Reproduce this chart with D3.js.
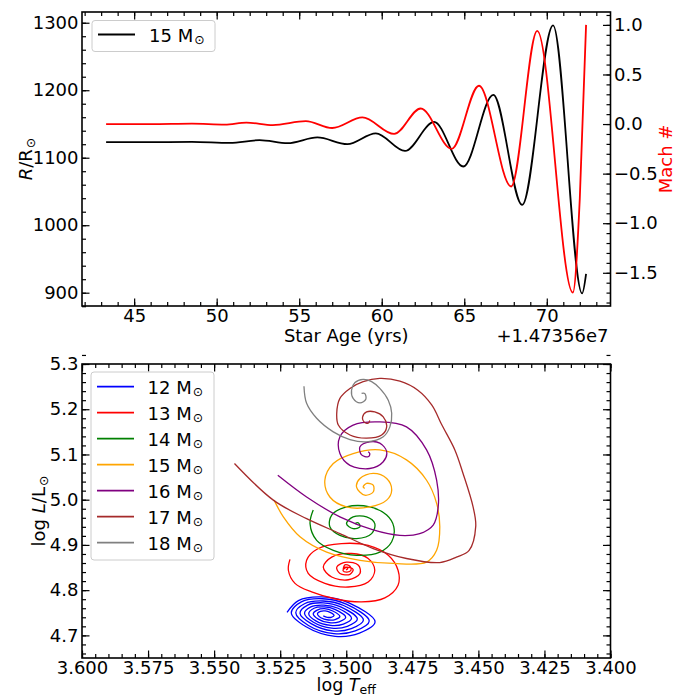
<!DOCTYPE html>
<html>
<head>
<meta charset="utf-8">
<script src="https://cdn.jsdelivr.net/npm/d3@7"></script>
<style>
    body { margin: 0; background: #fff; }
    svg text { font-family: "DejaVu Sans", sans-serif; }
</style>
</head>
<body>
<div id="chart"></div>
<script>
// ---- top panel: radius and Mach number vs age (offset +1.47356e7 yrs)
var radiusAge = [43.3, 46, 48.5, 50.8, 52.6, 54.3, 56.1, 57.92, 59.64, 61.41, 63.17, 64.94, 66.76, 68.51, 70.38, 72.14, 72.38];
var radiusVal = [1123, 1123, 1123.5, 1122, 1126, 1121.5, 1130, 1120, 1136, 1110, 1153, 1087, 1193, 1030, 1296, 899, 928];
var machAge = [43.3, 46, 48.5, 50.5, 51.8, 53.4, 55.4, 57.0, 58.83, 60.75, 62.36, 64.24, 65.89, 67.84, 69.42, 71.58, 72.0, 72.38];
var machVal = [0.0, 0.0, 0.005, -0.005, 0.015, -0.01, 0.03, -0.04, 0.067, -0.10, 0.157, -0.25, 0.386, -0.63, 0.94, -1.70, -0.75, 1.0];

var ageTicks = [45, 50, 55, 60, 65, 70];
var radiusTicks = [900, 1000, 1100, 1200, 1300];
var machTicks = [-1.5, -1.0, -0.5, 0.0, 0.5, 1.0];

// ---- bottom panel: HR tracks [log Teff, log L]
var track12 = [[3.5224,4.751],[3.5181,4.777],[3.5092,4.785],[3.4990,4.772],[3.4891,4.730],[3.4950,4.705],[3.5042,4.698],[3.5152,4.719],
    [3.5208,4.750],[3.5170,4.774],[3.5090,4.781],[3.5000,4.769],[3.4913,4.732],[3.4966,4.710],[3.5047,4.704],[3.5143,4.722],
    [3.5191,4.750],[3.5158,4.770],[3.5088,4.776],[3.5010,4.766],[3.4935,4.734],[3.4981,4.715],[3.5051,4.710],[3.5133,4.726],
    [3.5175,4.749],[3.5146,4.767],[3.5087,4.772],[3.5021,4.763],[3.4958,4.736],[3.4996,4.720],[3.5055,4.716],[3.5124,4.729],
    [3.5158,4.749],[3.5134,4.763],[3.5085,4.767],[3.5031,4.760],[3.4980,4.738],[3.5011,4.725],[3.5059,4.722],[3.5115,4.732],
    [3.5142,4.748],[3.5122,4.760],[3.5083,4.763],[3.5041,4.757],[3.5002,4.740],[3.5027,4.730],[3.5064,4.728],[3.5106,4.736],
    [3.5125,4.748],[3.5110,4.756],[3.5082,4.759],[3.5051,4.754],[3.5024,4.742],[3.5042,4.735],[3.5068,4.734],[3.5096,4.739],
    [3.5109,4.748],[3.5098,4.753],[3.5080,4.754],[3.5061,4.751],[3.5046,4.744],[3.5057,4.740],[3.5072,4.740],[3.5087,4.743]];
var track13 = [[3.5213,4.868],[3.5219,4.844],[3.5194,4.815],[3.5131,4.796],[3.5043,4.781],[3.4942,4.774],[3.4854,4.783],[3.4804,4.811],
    [3.4804,4.844],[3.4841,4.877],[3.4917,4.899],[3.5018,4.903],[3.5106,4.892],[3.5150,4.866],[3.5144,4.837],[3.5081,4.815],
    [3.4992,4.807],[3.4917,4.818],[3.4892,4.844],[3.4917,4.870],[3.4980,4.881],[3.5055,4.873],[3.5087,4.851],[3.5055,4.829],
    [3.4992,4.823],[3.4948,4.837],[3.4954,4.855],[3.4999,4.862],[3.5036,4.851],[3.5024,4.837],[3.4986,4.835],[3.4974,4.846],
    [3.4999,4.851],[3.5011,4.846],[3.5005,4.856],[3.4986,4.853],[3.4982,4.844],[3.4997,4.840],[3.5012,4.843],[3.5005,4.851],
    [3.4994,4.848],[3.5001,4.845]];
var track14 = [[3.5125,4.977],[3.5137,4.947],[3.5112,4.910],[3.5049,4.888],[3.4961,4.877],[3.4873,4.884],[3.4828,4.907],[3.4820,4.940],
    [3.4847,4.966],[3.4911,4.984],[3.4999,4.984],[3.5055,4.966],[3.5062,4.940],[3.5024,4.921],[3.4961,4.914],[3.4904,4.925],
    [3.4892,4.947],[3.4923,4.962],[3.4974,4.962],[3.4999,4.947],[3.4974,4.936],[3.4948,4.940],[3.4955,4.949],[3.4967,4.947]];
var track15 = [[3.5273,4.999],[3.5238,4.962],[3.5175,4.918],[3.5074,4.884],[3.4948,4.866],[3.4822,4.859],[3.4696,4.862],[3.4658,4.888],
    [3.4646,4.940],[3.4658,4.992],[3.4696,5.043],[3.4772,5.088],[3.4873,5.110],[3.4974,5.102],[3.5049,5.080],[3.5081,5.043],
    [3.5062,5.006],[3.4999,4.984],[3.4911,4.984],[3.4847,4.999],[3.4828,5.021],[3.4847,5.047],[3.4898,5.058],[3.4948,5.047],
    [3.4961,5.028],[3.4930,5.010],[3.4898,5.017],[3.4898,5.032],[3.4923,5.036],[3.4936,5.028],[3.4930,5.025]];
var track16 = [[3.5259,5.054],[3.5150,5.006],[3.5024,4.962],[3.4898,4.933],[3.4797,4.921],[3.4722,4.925],[3.4671,4.944],[3.4652,4.984],
    [3.4658,5.043],[3.4696,5.110],[3.4772,5.161],[3.4873,5.172],[3.4974,5.165],[3.5024,5.139],[3.5024,5.102],[3.4986,5.076],
    [3.4911,5.069],[3.4860,5.084],[3.4847,5.106],[3.4873,5.125],[3.4911,5.128],[3.4948,5.117],[3.4942,5.099],[3.4917,5.095],
    [3.4911,5.102],[3.4917,5.106]];
var track17 = [[3.5423,5.080],[3.5276,4.999],[3.5150,4.958],[3.5024,4.925],[3.4898,4.892],[3.4772,4.870],[3.4646,4.861],[3.4583,4.873],
    [3.4535,4.888],[3.4510,4.941],[3.4520,4.984],[3.4558,5.058],[3.4589,5.110],[3.4638,5.165],[3.4676,5.209],[3.4729,5.242],
    [3.4797,5.262],[3.4873,5.268],[3.4936,5.261],[3.4986,5.246],[3.5024,5.224],[3.5036,5.191],[3.5030,5.165],[3.4986,5.143],
    [3.4923,5.136],[3.4866,5.143],[3.4847,5.161],[3.4860,5.183],[3.4892,5.194],[3.4923,5.194],[3.4938,5.183],[3.4933,5.172],
    [3.4917,5.169],[3.4911,5.175]];
var track18 = [[3.5160,5.251],[3.5150,5.213],[3.5112,5.180],[3.5049,5.150],[3.4986,5.133],[3.4923,5.128],[3.4860,5.139],[3.4835,5.161],
    [3.4828,5.191],[3.4841,5.220],[3.4873,5.246],[3.4904,5.261],[3.4936,5.266],[3.4967,5.259],[3.4980,5.242],[3.4974,5.224],
    [3.4948,5.214],[3.4926,5.222],[3.4930,5.235],[3.4942,5.235]];

var tracks = [track12, track13, track14, track15, track16, track17, track18];
var trackNames = ['12', '13', '14', '15', '16', '17', '18'];
var trackColors = ['#0000ff', '#ff0000', '#008000', '#ffa500', '#800080', '#a52a2a', '#808080'];

var teffTicks = [3.600, 3.575, 3.550, 3.525, 3.500, 3.475, 3.450, 3.425, 3.400];
var lumTicks = [4.7, 4.8, 4.9, 5.0, 5.1, 5.2, 5.3];

var svgWidth = 685,
    svgHeight = 698,
    left = 82,
    right = 610.5;

var svg = d3.select('#chart').append('svg')
    .attr('width', svgWidth)
    .attr('height', svgHeight);

drawTop(svg.append('g'), {top: 12, bottom: 306});
drawBottom(svg.append('g'), {top: 364, bottom: 658});

function addTicks(g, axisFn, scale, pos, major, minor, fmt) {
    var mn = g.append('g').attr('transform', pos)
        .call(axisFn(scale).tickValues(minor).tickSize(-4).tickFormat(''));
    var mj = g.append('g').attr('transform', pos)
        .call(axisFn(scale).tickValues(major).tickSize(-7.5).tickPadding(3.5)
            .tickFormat(fmt || function () { return ''; }));
    [mn, mj].forEach(function (a) {
        a.select('.domain').remove();
        a.attr('font-size', 18).attr('font-family', '"DejaVu Sans", sans-serif');
        a.selectAll('line').attr('stroke', '#000').attr('stroke-width', 1.2);
        a.selectAll('text').attr('fill', '#000');
    });
}

function frame(g, m) {
    g.append('rect')
        .attr('x', left).attr('y', m.top)
        .attr('width', right - left).attr('height', m.bottom - m.top)
        .attr('fill', 'none').attr('stroke', '#000').attr('stroke-width', 1.6);
}

function massText(t, m) {
    t.append('tspan').text(m + ' M');
    t.append('tspan').attr('font-size', 12.5).attr('dy', 2.5).attr('dx', 1).text('\u2299');
}

function legendBox(g, x, y, w, h) {
    g.append('rect')
        .attr('x', x).attr('y', y).attr('width', w).attr('height', h)
        .attr('rx', 3)
        .attr('fill', '#fff').attr('fill-opacity', 0.8)
        .attr('stroke', '#cccccc').attr('stroke-width', 1);
}

function drawTop(g, m) {
    var x = d3.scaleLinear().domain([41.84, 73.86]).range([left, right]);
    var yR = d3.scaleLinear().domain([880.3, 1315.9]).range([m.bottom, m.top]);
    var yM = d3.scaleLinear().domain([-1.835, 1.13]).range([m.bottom, m.top]);

    addTicks(g, d3.axisBottom, x, 'translate(0,' + m.bottom + ')', ageTicks, d3.range(42, 74, 1), d3.format('d'));
    addTicks(g, d3.axisTop, x, 'translate(0,' + m.top + ')', ageTicks, d3.range(42, 74, 1), null);
    addTicks(g, d3.axisLeft, yR, 'translate(' + left + ',0)', radiusTicks, d3.range(880, 1320, 20), d3.format('d'));
    addTicks(g, d3.axisRight, yM, 'translate(' + right + ',0)', machTicks, d3.range(-18, 12, 1).map(function (v) { return v / 10; }), d3.format('.1f'));

    var rLine = d3.line()
        .x(function (d, i) { return x(radiusAge[i]); })
        .y(function (d) { return yR(d); })
        .curve(d3.curveMonotoneX);
    var mLine = d3.line()
        .x(function (d, i) { return x(machAge[i]); })
        .y(function (d) { return yM(d); })
        .curve(d3.curveMonotoneX);

    g.append('path').attr('d', rLine(radiusVal))
        .attr('fill', 'none').attr('stroke', '#000').attr('stroke-width', 1.8);
    g.append('path').attr('d', mLine(machVal))
        .attr('fill', 'none').attr('stroke', '#ff0000').attr('stroke-width', 1.8);

    frame(g, m);

    // legend
    legendBox(g, 92, 20.5, 123, 31);
    g.append('line').attr('x1', 98).attr('x2', 135).attr('y1', 34.5).attr('y2', 34.5)
        .attr('stroke', '#000').attr('stroke-width', 1.8);
    massText(g.append('text').attr('x', 149).attr('y', 41.5).attr('font-size', 18), '15');

    // labels
    g.append('text').attr('x', (left + right) / 2).attr('y', 342)
        .attr('text-anchor', 'middle').attr('font-size', 18).text('Star Age (yrs)');
    g.append('text').attr('x', 608.5).attr('y', 342)
        .attr('text-anchor', 'end').attr('font-size', 18).text('+1.47356e7');

    var yl = g.append('text').attr('transform', 'translate(32,' + (m.top + m.bottom) / 2 + ') rotate(-90)')
        .attr('text-anchor', 'middle').attr('font-size', 18);
    yl.append('tspan').attr('font-style', 'italic').text('R');
    yl.append('tspan').text('/R');
    yl.append('tspan').attr('font-size', 12.5).attr('dy', 2.5).attr('dx', 1).text('\u2299');

    g.append('text').attr('transform', 'translate(672,' + (m.top + m.bottom) / 2 + ') rotate(-90)')
        .attr('text-anchor', 'middle').attr('font-size', 18).attr('fill', '#ff0000').text('Mach #');
}

function drawBottom(g, m) {
    var x = d3.scaleLinear().domain([3.6, 3.4]).range([left, right]);
    var y = d3.scaleLinear().domain([4.65, 5.3]).range([m.bottom, m.top]);

    var teffMinor = d3.range(0, 41).map(function (i) { return 3.6 - i * 0.005; });
    var lumMinor = d3.range(0, 34).map(function (i) { return 4.66 + i * 0.02; });

    addTicks(g, d3.axisBottom, x, 'translate(0,' + m.bottom + ')', teffTicks, teffMinor, d3.format('.3f'));
    addTicks(g, d3.axisTop, x, 'translate(0,' + m.top + ')', teffTicks, teffMinor, null);
    addTicks(g, d3.axisLeft, y, 'translate(' + left + ',0)', lumTicks, lumMinor, d3.format('.1f'));
    addTicks(g, d3.axisRight, y, 'translate(' + right + ',0)', lumTicks, lumMinor, null);

    var line = d3.line()
        .x(function (d) { return x(d[0]); })
        .y(function (d) { return y(d[1]); })
        .curve(d3.curveCatmullRom.alpha(0.5));

    tracks.forEach(function (t, i) {
        g.append('path').attr('d', line(t))
            .attr('fill', 'none').attr('stroke', trackColors[i]).attr('stroke-width', 1.3);
    });

    frame(g, m);

    // legend
    legendBox(g, 91, 372, 123, 188);
    trackNames.forEach(function (name, i) {
        var ly = 386.7 + i * 26;
        g.append('line').attr('x1', 97).attr('x2', 134).attr('y1', ly).attr('y2', ly)
            .attr('stroke', trackColors[i]).attr('stroke-width', 1.8);
        massText(g.append('text').attr('x', 147.5).attr('y', ly + 6.8).attr('font-size', 18), name);
    });

    var xl = g.append('text').attr('x', (left + right) / 2).attr('y', 691)
        .attr('text-anchor', 'middle').attr('font-size', 17.5);
    xl.append('tspan').text('log ');
    xl.append('tspan').attr('font-style', 'italic').text('T');
    xl.append('tspan').attr('font-size', 12.5).attr('dy', 3).text('eff');

    var yl = g.append('text').attr('transform', 'translate(45,' + (m.top + m.bottom) / 2 + ') rotate(-90)')
        .attr('text-anchor', 'middle').attr('font-size', 18);
    yl.append('tspan').text('log ');
    yl.append('tspan').attr('font-style', 'italic').text('L');
    yl.append('tspan').text('/L');
    yl.append('tspan').attr('font-size', 12.5).attr('dy', 2.5).attr('dx', 1).text('\u2299');
}
</script>
</body>
</html>
